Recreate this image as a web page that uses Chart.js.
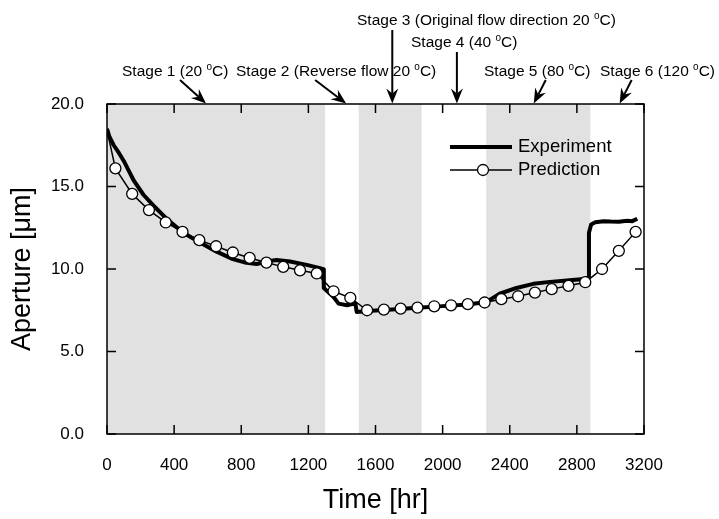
<!DOCTYPE html>
<html>
<head>
<meta charset="utf-8">
<script src="https://cdn.jsdelivr.net/npm/chart.js@4.4.0/dist/chart.umd.min.js"></script>
<style>
  html, body { margin: 0; padding: 0; background: #fff; }
  #wrap { width: 719px; height: 519px; }
</style>
</head>
<body>
<div id="wrap"><canvas id="apertureChart" width="719" height="519"></canvas></div>
<script>
// Measured aperture (thick line)
const expTime = [0, 15, 40, 70, 100, 130, 160, 217, 276, 355, 455, 554, 653, 750, 820, 892, 950, 1010, 1091, 1190,
  1270, 1290, 1292, 1350, 1380, 1430, 1480, 1488, 1550, 1700, 1850, 2000, 2150, 2260, 2300, 2340, 2440, 2540,
  2640, 2740, 2840, 2868, 2872, 2885, 2910, 2960, 3000, 3050, 3100, 3130, 3160];
const expAperture = [18.5, 18.0, 17.5, 17.05, 16.55, 15.95, 15.35, 14.5, 13.85, 13.05, 12.2, 11.6, 11.05, 10.6, 10.4, 10.3, 10.45, 10.55, 10.45, 10.25,
  10.05, 9.98, 8.85, 8.3, 7.9, 7.8, 7.92, 7.4, 7.45, 7.55, 7.65, 7.75, 7.85, 8.0, 8.25, 8.5, 8.85, 9.1,
  9.22, 9.3, 9.4, 9.47, 12.2, 12.7, 12.83, 12.9, 12.88, 12.87, 12.93, 12.9, 13.05];

// Predicted aperture (open circles)
const predTime = [0, 50, 150, 250, 350, 450, 550, 650, 750, 850, 950, 1050, 1150, 1250, 1350, 1450, 1550,
  1650, 1750, 1850, 1950, 2050, 2150, 2250, 2350, 2450, 2550, 2650, 2750, 2850, 2950, 3050, 3150];
const predAperture = [18.4, 16.1, 14.55, 13.57, 12.82, 12.25, 11.75, 11.38, 11.0, 10.67, 10.39, 10.13, 9.92, 9.73, 8.65, 8.25, 7.5,
  7.54, 7.6, 7.66, 7.74, 7.8, 7.87, 7.97, 8.17, 8.35, 8.57, 8.78, 8.98, 9.2, 10.0, 11.1, 12.25];

// Shaded stages
const bandStart = [0, 1500, 2260];
const bandEnd = [1300, 1875, 2880];

// Stage annotations (arrow tip time on the top axis)
const stageLabels = ['Stage 1 (20 °C)', 'Stage 2 (Reverse flow 20 °C)', 'Stage 3 (Original flow direction 20 °C)',
  'Stage 4 (40 °C)', 'Stage 5 (80 °C)', 'Stage 6 (120 °C)'];
const stageTime = [590, 1425, 1700, 2085, 2543, 3055];

const timeTicks = [0, 400, 800, 1200, 1600, 2000, 2400, 2800, 3200];
const apertureTicks = [0, 5, 10, 15, 20];

const FONT = '"Liberation Sans", Arial, sans-serif';

function drawArrow(ctx, x0, y0, x1, y1) {
  const ang = Math.atan2(y1 - y0, x1 - x0);
  const c = Math.cos(ang), s = Math.sin(ang);
  const len = 15, half = 6, notch = 10;
  ctx.beginPath();
  ctx.moveTo(x0, y0);
  ctx.lineTo(x1 - notch * c, y1 - notch * s);
  ctx.stroke();
  ctx.beginPath();
  ctx.moveTo(x1, y1);
  ctx.lineTo(x1 - len * c + half * s, y1 - len * s - half * c);
  ctx.lineTo(x1 - notch * c, y1 - notch * s);
  ctx.lineTo(x1 - len * c - half * s, y1 - len * s + half * c);
  ctx.closePath();
  ctx.fill();
}

function drawDegreeText(ctx, label, left, base) {
  const parts = label.split('°');
  ctx.font = '15.5px ' + FONT;
  ctx.fillText(parts[0], left, base);
  let w = ctx.measureText(parts[0]).width;
  ctx.font = '10px ' + FONT;
  ctx.fillText('o', left + w, base - 6);
  w += ctx.measureText('o').width;
  ctx.font = '15.5px ' + FONT;
  ctx.fillText(parts[1], left + w, base);
}

const framePlugin = {
  id: 'framePlugin',
  beforeDatasetsDraw(chart) {
    const { ctx, chartArea: a, scales: { x } } = chart;
    ctx.save();
    ctx.fillStyle = '#e1e1e1';
    bandStart.forEach((s, i) => {
      const x0 = x.getPixelForValue(s);
      const x1 = x.getPixelForValue(bandEnd[i]);
      ctx.fillRect(x0, a.top, x1 - x0, a.bottom - a.top);
    });
    ctx.restore();
  },
  afterDraw(chart) {
    const { ctx, chartArea: a, scales: { x, y } } = chart;
    ctx.save();
    // box and inward ticks
    ctx.strokeStyle = '#000';
    ctx.lineWidth = 1.5;
    ctx.strokeRect(a.left, a.top, a.right - a.left, a.bottom - a.top);
    ctx.beginPath();
    timeTicks.forEach(t => {
      const px = x.getPixelForValue(t);
      ctx.moveTo(px, a.bottom); ctx.lineTo(px, a.bottom - 9);
      ctx.moveTo(px, a.top); ctx.lineTo(px, a.top + 9);
    });
    apertureTicks.forEach(v => {
      const py = y.getPixelForValue(v);
      ctx.moveTo(a.left, py); ctx.lineTo(a.left + 9, py);
      ctx.moveTo(a.right, py); ctx.lineTo(a.right - 9, py);
    });
    ctx.stroke();

    // legend
    ctx.lineCap = 'butt';
    ctx.lineWidth = 4;
    ctx.beginPath(); ctx.moveTo(450, 147); ctx.lineTo(512, 147); ctx.stroke();
    ctx.lineWidth = 1.5;
    ctx.beginPath(); ctx.moveTo(450, 170); ctx.lineTo(512, 170); ctx.stroke();
    ctx.beginPath(); ctx.arc(483, 170, 5.5, 0, Math.PI * 2);
    ctx.fillStyle = '#fff'; ctx.fill();
    ctx.lineWidth = 1.3; ctx.stroke();
    ctx.fillStyle = '#000';
    ctx.font = '18.5px ' + FONT;
    ctx.textBaseline = 'middle';
    ctx.fillText('Experiment', 518, 147);
    ctx.fillText('Prediction', 518, 170);

    // stage labels and arrows
    ctx.textBaseline = 'alphabetic';
    const textLeft = [122, 236, 357, 411, 484, 600];
    const textBase = [75.5, 75.5, 24.5, 46.5, 75.5, 75.5];
    const tailDx = [-26, -31, 0, 0, 12, 12];
    const tailY = [80, 80, 30, 52, 80, 80];
    ctx.lineWidth = 2;
    stageLabels.forEach((label, i) => {
      drawDegreeText(ctx, label, textLeft[i], textBase[i]);
      const tx = x.getPixelForValue(stageTime[i]);
      drawArrow(ctx, tx + tailDx[i], tailY[i], tx, a.top - 0.5);
    });
    ctx.restore();
  }
};

const ctx = document.getElementById('apertureChart').getContext('2d');
new Chart(ctx, {
  type: 'scatter',
  data: {
    datasets: [
      {
        label: 'Prediction',
        data: predTime.map((t, i) => ({ x: t, y: predAperture[i] })),
        showLine: true,
        borderColor: '#000',
        borderWidth: 1.5,
        pointRadius: predTime.map((t, i) => i === 0 ? 0 : 5.5),
        pointBackgroundColor: '#fff',
        pointBorderColor: '#000',
        pointBorderWidth: 1.3,
        order: 0
      },
      {
        label: 'Experiment',
        data: expTime.map((t, i) => ({ x: t, y: expAperture[i] })),
        showLine: true,
        borderColor: '#000',
        borderWidth: 4,
        borderJoinStyle: 'round',
        pointRadius: 0,
        order: 1
      }
    ]
  },
  options: {
    responsive: false,
    animation: false,
    layout: { padding: { top: 104, right: 75, left: 0, bottom: 0 } },
    plugins: {
      legend: { display: false },
      tooltip: { enabled: false }
    },
    scales: {
      x: {
        type: 'linear',
        min: 0,
        max: 3200,
        afterBuildTicks: s => { s.ticks = timeTicks.map(v => ({ value: v })); },
        afterFit: s => { s.height = 85; },
        grid: { display: false },
        border: { display: false },
        ticks: {
          color: '#000',
          font: { family: FONT, size: 17 },
          padding: 13,
          maxRotation: 0,
          autoSkip: false,
          callback: v => String(v)
        },
        title: {
          display: true,
          text: 'Time [hr]',
          color: '#000',
          font: { family: FONT, size: 27 },
          padding: { top: 0, bottom: 2 }
        }
      },
      y: {
        type: 'linear',
        min: 0,
        max: 20,
        afterBuildTicks: s => { s.ticks = apertureTicks.map(v => ({ value: v })); },
        afterFit: s => { s.width = 107; },
        grid: { display: false },
        border: { display: false },
        ticks: {
          color: '#000',
          font: { family: FONT, size: 17 },
          padding: 15,
          callback: v => Number(v).toFixed(1)
        },
        title: {
          display: true,
          text: 'Aperture [μm]',
          color: '#000',
          font: { family: FONT, size: 27 },
          padding: { top: 6, bottom: 0 }
        }
      }
    }
  },
  plugins: [framePlugin]
});
</script>
</body>
</html>
